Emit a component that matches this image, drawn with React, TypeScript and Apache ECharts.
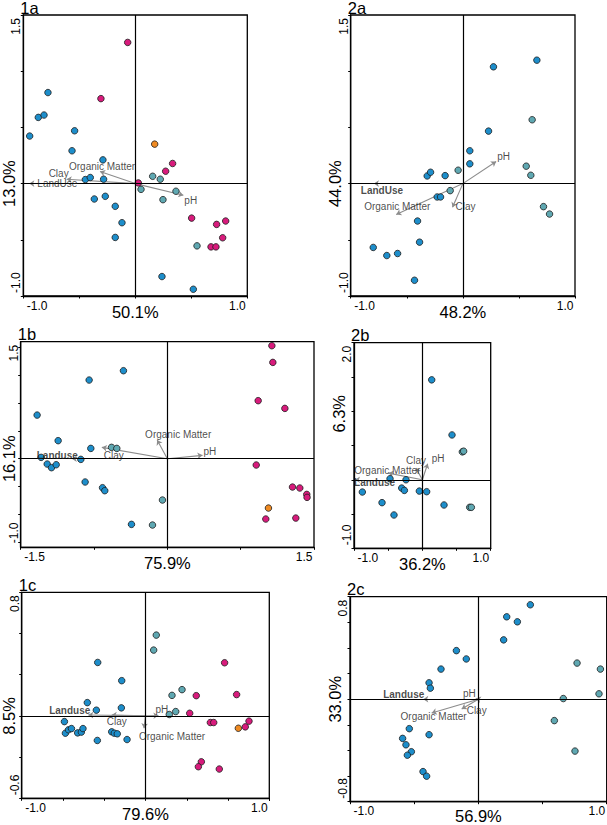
import React, { useEffect, useRef } from "react";
import * as echarts from "echarts";

const FONT = "'Liberation Sans', Arial, Helvetica, sans-serif";
const BLUE = "#1d8ecb";
const TEAL = "#5fa8b2";
const PINK = "#d81b7c";
const ORANGE = "#ef8a22";
const ARROW = "#8c8c8c";

// ---------- Panel 1a ----------
const p1aBlue = [[-0.78, 0.81], [-0.866, 0.589], [-0.815, 0.61], [-0.943, 0.423], [-0.542, 0.47], [-0.565, 0.292], [-0.289, 0.211], [-0.446, 0.036], [-0.402, 0.054], [-0.283, 0.039], [-0.366, -0.137], [-0.268, -0.113], [-0.179, -0.202], [-0.119, -0.348], [-0.179, -0.479], [0.238, -0.827], [0.518, -0.94]];
const p1aTeal = [[0.155, 0.065], [0.223, 0.039], [0.051, -0.051], [0.363, -0.068], [0.247, -0.143], [0.551, -0.554]];
const p1aPink = [[-0.068, 1.256], [-0.307, 0.756], [0.333, 0.179], [0.271, 0.11], [0.027, 0.006], [0.503, -0.307], [0.807, -0.333], [0.726, -0.363], [0.78, -0.482], [0.676, -0.563], [0.72, -0.563]];
const p1aOrange = [[0.173, 0.351]];
const p1aVars = ["Clay", "LandUse", "Organic Matter", "pH"];
const p1aTips = [[-0.613, 0.039], [-0.946, 0], [-0.315, 0.107], [0.429, -0.104]];

// ---------- Panel 2a ----------
const p2aBlue = [[0.273, 1.039], [0.66, 1.098], [0.229, 0.467], [0.062, 0.292], [0.062, 0.176], [-0.318, 0.068], [-0.288, 0.101], [-0.158, 0.071], [-0.229, -0.119], [-0.199, -0.119], [-0.404, -0.333], [-0.386, -0.521], [-0.799, -0.568], [-0.678, -0.64], [-0.582, -0.622], [-0.431, -0.86]];
const p2aTeal = [[-0.042, 0.119], [-0.113, -0.0625], [0.618, 0.568], [0.565, 0.155], [0.606, 0.074], [0.719, -0.205], [0.773, -0.271]];
const p2aVars = ["pH", "LandUse", "Organic Matter", "Clay"];
const p2aTips = [[0.297, 0.196], [-0.793, 0], [-0.594, -0.274], [-0.092, -0.211]];

// ---------- Panel 1b ----------
const p1bBlue = [[-0.449, 1.186], [-0.8, 1.06], [-1.332, 0.588], [-1.117, 0.243], [-0.783, 0.139], [-1.291, 0.018], [-1.229, -0.072], [-1.185, -0.121], [-1.137, -0.081], [-0.885, -0.009], [-0.841, -0.314], [-0.663, -0.391], [-0.64, -0.431], [-0.367, -0.885]];
const p1bTeal = [[-0.571, 0.153], [-0.517, 0.139], [-0.05, -0.557], [-0.152, -0.894]];
const p1bPink = [[1.069, 1.523], [1.079, 1.298], [0.929, 0.782], [1.202, 0.678], [0.909, -0.085], [1.28, -0.382], [1.355, -0.395], [1.426, -0.481], [1.429, -0.521], [1.007, -0.813], [1.314, -0.8]];
const p1bOrange = [[1.034, -0.665]];
const p1bVars = ["Organic Matter", "pH", "Clay", "Landuse"];
const p1bTips = [[-0.104, 0.252], [0.359, 0.045], [-0.67, 0.153], [-0.977, 0]];
const p1bYTicks = [-1.125, -0.75, -0.375, 0, 0.375, 0.75, 1.125, 1.5];

// ---------- Panel 2b ----------
const p2bBlue = [[0.137, 1.458], [0.434, 0.654], [-0.473, 0.015], [-0.239, 0], [-0.878, -0.179], [-0.302, -0.121], [-0.263, -0.155], [-0.044, -0.165], [0.063, -0.174], [-0.59, -0.334], [-0.415, -0.514], [0.317, -0.368]];
const p2bTeal = [[0.585, 0.407], [0.604, 0.417], [0.693, -0.402], [0.717, -0.402]];
const p2bVars = ["Clay", "pH", "Organic Matter", "Landuse"];
const p2bTips = [[-0.093, 0.17], [0.078, 0.233], [-0.498, 0.097], [-0.985, 0]];

// ---------- Panel 1c ----------
const p1cBlue = [[-0.386, 0.346], [-0.192, 0.228], [-0.47, 0.086], [-0.397, 0.037], [-0.195, 0.052], [-0.655, -0.037], [-0.647, -0.112], [-0.622, -0.09], [-0.598, -0.082], [-0.548, -0.11], [-0.518, -0.105], [-0.505, -0.082], [-0.273, -0.103], [-0.252, -0.112], [-0.228, -0.116], [-0.389, -0.159], [-0.149, -0.153]];
const p1cTeal = [[0.087, 0.523], [0.066, 0.426], [0.295, 0.17], [0.214, 0.133], [0.244, 0.028], [0.192, 0.009]];
const p1cPink = [[0.639, 0.344], [0.736, 0.138], [0.41, 0.131], [0.357, 0.017], [0.524, -0.043], [0.551, -0.043], [0.836, -0.034], [0.806, -0.071], [0.451, -0.297], [0.427, -0.329], [0.596, -0.344]];
const p1cOrange = [[0.75, -0.08]];
const p1cVars = ["pH", "Landuse", "Clay", "Organic Matter"];
const p1cTips = [[0.104, 0.002], [-0.462, 0.006], [-0.273, 0.006], [-0.012, -0.08]];

// ---------- Panel 2c ----------
const p2cBlue = [[0.405, 0.737], [0.221, 0.643], [0.304, 0.604], [0.197, 0.463], [-0.171, 0.379], [-0.094, 0.314], [-0.291, 0.235], [-0.384, 0.128], [-0.374, 0.086], [-0.538, -0.23], [-0.384, -0.277], [-0.59, -0.306], [-0.564, -0.356], [-0.522, -0.41], [-0.553, -0.437], [-0.431, -0.565], [-0.403, -0.601]];
const p2cTeal = [[0.769, 0.282], [0.951, 0.235], [0.662, 0.005], [0.94, 0.042], [0.592, -0.167], [0.753, -0.405]];
const p2cVars = ["Landuse", "pH", "Organic Matter", "Clay"];
const p2cTips = [[-0.429, 0], [-0.02, 0.005], [-0.364, -0.107], [-0.13, -0.076]];

// Tick label texts
const tickLab11 = ["-1.0", "1.0"];
const tickLab1515 = ["-1.5", "1.5"];
const yLab1a = ["-1.0", "1.5"];
const yLab1b = ["-1.0", "1.5"];
const yLab2b = ["-1.0", "2.0"];
const yLab1c = ["-0.6", "0.8"];
const yLab2c = ["-0.8", "0.8"];

type Lab = [string, number, number, boolean];

const panels: any[] = [
  {
    title: "1a", box: [23.3, 15, 224, 281], x: [-1, 1], xStep: 0.5, y: [-1, 1.5], yStep: 0.5,
    xName: "50.1%", yName: "13.0%", yNameDy: 0,
    xLab: [[-1, tickLab11[0]], [1, tickLab11[1]]], yLab: [[-1, yLab1a[0]], [1.5, yLab1a[1]]],
    groups: [[p1aBlue, BLUE], [p1aTeal, TEAL], [p1aPink, PINK], [p1aOrange, ORANGE]],
    vars: p1aVars, tips: p1aTips,
    labs: [["right", 2, -6, false], ["left", 8, 0, false], ["center", 2, -5, false], ["left", 1, 5, false]] as Lab[],
  },
  {
    title: "2a", box: [350.7, 15, 224.3, 281], x: [-1, 1], xStep: 0.5, y: [-1, 1.5], yStep: 0.5,
    xName: "48.2%", yName: "44.0%", yNameDy: 0,
    xLab: [[-1, tickLab11[0]], [1, tickLab11[1]]], yLab: [[-1, yLab1a[0]], [1.5, yLab1a[1]]],
    groups: [[p2aBlue, BLUE], [p2aTeal, TEAL]],
    vars: p2aVars, tips: p2aTips,
    labs: [["left", 1, -5, false], ["center", 8, 7, true], ["center", 1, -8, false], ["left", 3, -1, false]] as Lab[],
  },
  {
    title: "1b", box: [20.7, 341.7, 293.3, 205.6], x: [-1.5, 1.5], xStep: 0.75, y: [-1.194, 1.577], yTicks: p1bYTicks,
    xName: "75.9%", yName: "16.1%", yNameDy: 0,
    xLab: [[-1.5, tickLab1515[0]], [1.5, tickLab1515[1]]], yLab: [[-1, yLab1b[0]], [1.5, yLab1b[1]]],
    groups: [[p1bBlue, BLUE], [p1bTeal, TEAL], [p1bPink, PINK], [p1bOrange, ORANGE]],
    vars: p1bVars, tips: p1bTips,
    labs: [["center", 21, -6, false], ["left", 1, -4, false], ["left", 2, 8, false], ["right", 6, -3, true]] as Lab[],
  },
  {
    title: "2b", box: [354, 342.7, 136.7, 205.6], x: [-1, 1], xStep: 0.5, y: [-1, 2], yStep: 0.5,
    xName: "36.2%", yName: "6.3%", yNameDy: -66,
    xLab: [[-1, tickLab11[0]], [1, tickLab11[1]]], yLab: [[-1, yLab2b[0]], [2, yLab2b[1]]],
    groups: [[p2bBlue, BLUE], [p2bTeal, TEAL]],
    vars: p2bVars, tips: p2bTips,
    labs: [["center", 0, -8, false], ["left", 4, -5, false], ["center", -1, -3, false], ["left", -1, 3, true]] as Lab[],
  },
  {
    title: "1c", box: [21.7, 592.3, 247.6, 206], x: [-1, 1], xStep: 1 / 3, y: [-0.5333333, 0.8], yStep: 0.8 / 3,
    xName: "79.6%", yName: "8.5%", yNameDy: 0,
    xLab: [[-1, tickLab11[0]], [1, tickLab11[1]]], yLab: [[-0.6, yLab1c[0]], [0.8, yLab1c[1]]],
    groups: [[p1cBlue, BLUE], [p1cTeal, TEAL], [p1cPink, PINK], [p1cOrange, ORANGE]],
    vars: p1cVars, tips: p1cTips,
    labs: [["left", -3, -6, false], ["right", 2, -4, true], ["center", 5, 7, false], ["center", 28, 8, false]] as Lab[],
  },
  {
    title: "2c", box: [350, 596.7, 256.7, 205], x: [-1, 1], xStep: 0.5, y: [-0.8, 0.8], yStep: 0.2,
    xName: "56.9%", yName: "33.0%", yNameDy: 0,
    xLab: [[-1, tickLab11[0]], [1, tickLab11[1]]], yLab: [[-0.8, yLab2c[0]], [0.8, yLab2c[1]]],
    groups: [[p2cBlue, BLUE], [p2cTeal, TEAL]],
    vars: p2cVars, tips: p2cTips,
    labs: [["right", 1, -5, true], ["right", 0, -5, false], ["center", 2, 4, false], ["left", 5, 2, false]] as Lab[],
  },
];

const cw: Record<string, number> = { "-": 0.333, ".": 0.278, "%": 0.889 };
const tw = (s: string, fs: number) => Array.from(s).reduce((a, c) => a + (cw[c] ?? 0.556), 0) * fs;

export default function App() {
  const ref = useRef<HTMLDivElement>(null);
  useEffect(() => {
    document.body.style.margin = "0";
    const chart = echarts.init(ref.current!, null, { renderer: "svg" });
    const grid: any[] = [];
    const xAxis: any[] = [];
    const yAxis: any[] = [];
    const series: any[] = [];
    panels.forEach((p, i) => {
      grid.push({
        left: p.box[0], top: p.box[1], width: p.box[2], height: p.box[3],
        show: true, borderColor: "#000", borderWidth: 1.3, backgroundColor: "transparent",
      });
      const common = {
        gridIndex: i, type: "value",
        axisLine: { show: true, onZero: false, lineStyle: { color: "#000", width: 1.3 } },
        axisLabel: { show: false }, splitLine: { show: false },
      };
      xAxis.push({
        ...common, min: p.x[0], max: p.x[1], interval: p.xStep,
        axisTick: { show: true, length: 2.5, lineStyle: { color: "#000", width: 1 } },
      });
      const yA: any = {
        ...common, min: p.y[0], max: p.y[1],
        axisTick: { show: true, length: 2.5, lineStyle: { color: "#000", width: 1 } },
      };
      if (p.yTicks) yA.axisTick.customValues = p.yTicks;
      else yA.interval = p.yStep;
      yAxis.push(yA);

      series.push({
        type: "lines", coordinateSystem: "cartesian2d", xAxisIndex: i, yAxisIndex: i,
        data: p.tips.map((t: number[]) => ({ coords: [[0, 0], t] })),
        symbol: ["none", "arrow"], symbolSize: 5,
        lineStyle: { color: ARROW, width: 1.1, opacity: 1 },
        z: 2, silent: true,
      });
      p.groups.forEach(([data, color]: any, gi: number) => {
        const s: any = {
          type: "scatter", xAxisIndex: i, yAxisIndex: i, data,
          symbol: "circle", symbolSize: 6.5,
          itemStyle: { color, borderColor: "#1a1a1a", borderWidth: 0.8, opacity: 1 },
          z: 3, silent: true,
        };
        if (gi === 0) {
          s.markLine = {
            silent: true, symbol: ["none", "none"], label: { show: false },
            lineStyle: { color: "#000", width: 1.2, type: "solid" },
            data: [{ xAxis: 0 }, { yAxis: 0 }],
          };
        }
        series.push(s);
      });
      series.push({
        type: "scatter", xAxisIndex: i, yAxisIndex: i, symbolSize: 1,
        itemStyle: { color: "rgba(0,0,0,0)" }, z: 5, silent: true,
        data: p.tips.map((t: number[], k: number) => {
          const [al, dx, dy, bold] = p.labs[k];
          return {
            value: t, name: p.vars[k],
            label: {
              show: true, formatter: p.vars[k], position: [dx + 0.5, dy + 0.5],
              align: al, verticalAlign: "middle", fontSize: 10, fontFamily: FONT,
              color: "#1a1a1a", fontWeight: bold ? "bold" : "normal",
            },
          };
        }),
      });
    });

    chart.setOption({ animation: false, grid, xAxis, yAxis, series });

    const g: any[] = [];
    panels.forEach((p, i) => {
      const px = (x: number, y: number) => chart.convertToPixel({ gridIndex: i } as any, [x, y]) as number[];
      const [lft, bot] = px(p.x[0], p.y[0]);
      const [rgt, top] = px(p.x[1], p.y[1]);
      const [, zy] = px(0, 0);
      g.push({
        type: "text", x: lft - 3, y: top + 1, silent: true,
        style: { text: p.title, fontSize: 16.5, fontFamily: FONT, fill: "#000", align: "left", verticalAlign: "bottom" },
      });
      p.xLab.forEach(([v, t]: [number, string]) => {
        const L = tw(t, 12);
        let c = px(v, 0)[0];
        c = Math.max(c, lft + L / 2 + 3.5);
        c = Math.min(c, rgt - L / 2 - 1.5);
        g.push({
          type: "text", x: c, y: bot + 9.5, silent: true,
          style: { text: t, fontSize: 12, fontFamily: FONT, fill: "#000", align: "center", verticalAlign: "middle" },
        });
      });
      p.yLab.forEach(([v, t]: [number, string]) => {
        const L = tw(t, 12);
        let c = px(0, v)[1];
        c = Math.max(c, top + L / 2 + 3);
        c = Math.min(c, bot - L / 2 - 3);
        g.push({
          type: "text", x: lft - 7, y: c, rotation: Math.PI / 2, silent: true,
          style: { text: t, fontSize: 12, fontFamily: FONT, fill: "#000", align: "center", verticalAlign: "middle" },
        });
      });
      g.push({
        type: "text", x: (lft + rgt) / 2, y: Math.min(bot + 16, 815.5), silent: true,
        style: { text: p.xName, fontSize: 16.5, fontFamily: FONT, fill: "#000", align: "center", verticalAlign: "middle" },
      });
      g.push({
        type: "text", x: Math.max(lft - 15.5, 9), y: zy + p.yNameDy, rotation: Math.PI / 2, silent: true,
        style: { text: p.yName, fontSize: 16.5, fontFamily: FONT, fill: "#000", align: "center", verticalAlign: "middle" },
      });
    });
    chart.setOption({ graphic: g });

    return () => chart.dispose();
  }, []);
  return (
    <div
      ref={ref}
      style={{ position: "absolute", left: 0, top: 0, width: 607, height: 825, background: "#fff" }}
    />
  );
}
